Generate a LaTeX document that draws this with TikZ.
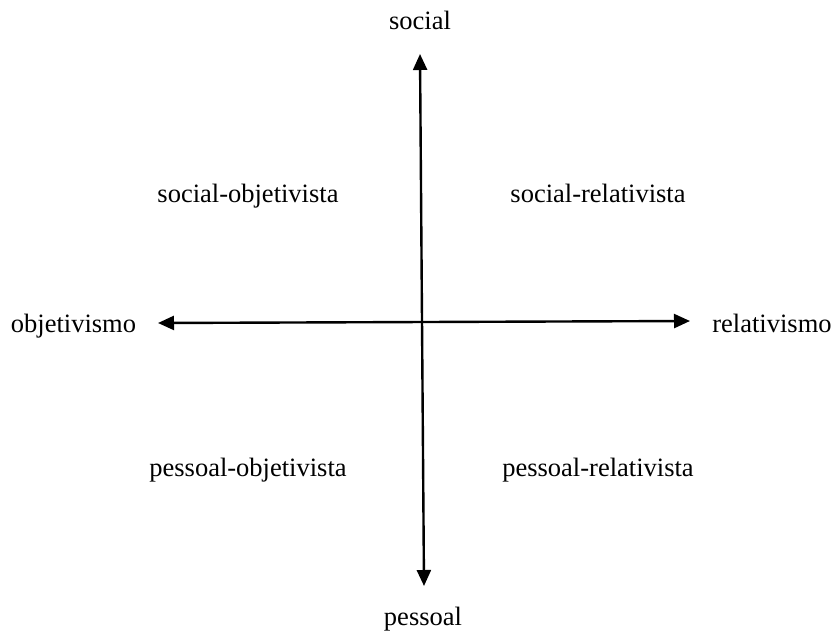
\documentclass[tikz,border=0pt]{standalone}
\usepackage{fontspec}
\setmainfont{Liberation Serif}
\usetikzlibrary{arrows.meta}
\begin{document}
\begin{tikzpicture}[x=1pt,y=-1pt,
  lbl/.style={inner sep=0pt, anchor=base, font=\fontsize{26.5}{30}\selectfont},
  axis/.style={line width=2.4pt, {Triangle[length=16pt,width=14pt]}-{Triangle[length=16pt,width=14pt]}}]
\useasboundingbox (0,0) rectangle (833,630);
% axis end points
\coordinate (top) at (420,54);
\coordinate (bot) at (424,586);
\coordinate (lft) at (158,323);
\coordinate (rgt) at (690,321);
\draw[axis] (bot) -- (top);
\draw[axis] (lft) -- (rgt);
% axis labels (placed by baseline)
\node[lbl] (social) at (420,29) {social};
\node[lbl] (pessoal) at (423,625) {pessoal};
\node[lbl] (objetivismo) at (73.5,332) {objetivismo};
\node[lbl] (relativismo) at (772,332) {relativismo};
% quadrant labels
\node[lbl] (so) at (248,202) {social-objetivista};
\node[lbl] (sr) at (598,202) {social-relativista};
\node[lbl] (po) at (248,476) {pessoal-objetivista};
\node[lbl] (pr) at (598,476) {pessoal-relativista};
\end{tikzpicture}
\end{document}
